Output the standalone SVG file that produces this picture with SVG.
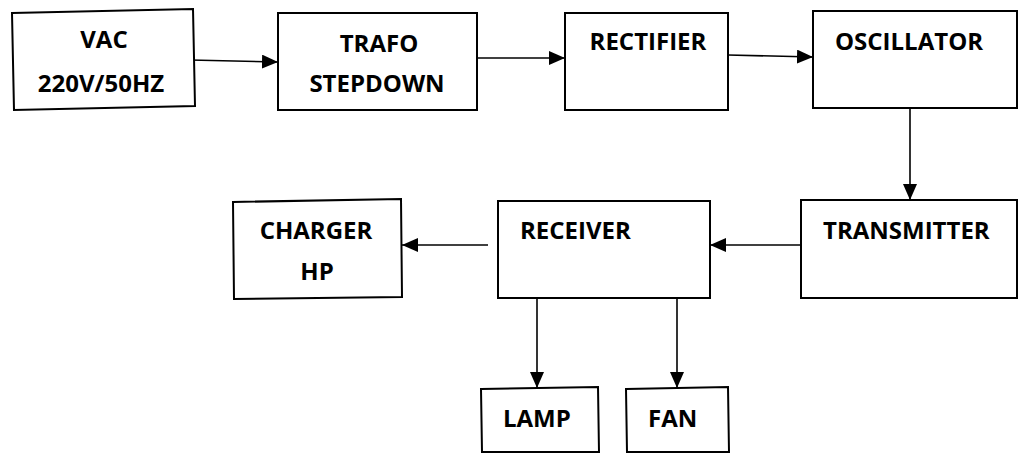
<svg xmlns="http://www.w3.org/2000/svg" width="1019" height="454" viewBox="0 0 1019 454">
<style>
.box{fill:#fff;stroke:#000;stroke-width:2}
.t{font-family:"Open Sans","Noto Sans",sans-serif;font-weight:bold;font-size:24px;fill:#000}
.c{text-anchor:middle}
.ln{stroke:#000;stroke-width:1.6;fill:none;marker-end:url(#ah)}
</style>
<defs>
<marker id="ah" markerUnits="userSpaceOnUse" markerWidth="16" markerHeight="14" viewBox="0 0 16 14" refX="16" refY="7" orient="auto">
<path d="M0,0 L16,7 L0,14 Z" fill="#000"/>
</marker>
</defs>
<rect width="1019" height="454" fill="#fff"/>
<g id="connectors">
<line class="ln" x1="190" y1="60" x2="278" y2="62"/>
<line class="ln" x1="477" y1="58" x2="565" y2="58"/>
<line class="ln" x1="728" y1="55" x2="813" y2="57"/>
<line class="ln" x1="910" y1="108" x2="910" y2="200"/>
<line class="ln" x1="801" y1="245" x2="710" y2="245"/>
<line class="ln" x1="488" y1="245" x2="402" y2="245"/>
<line class="ln" x1="537" y1="298" x2="537" y2="388"/>
<line class="ln" x1="677" y1="298" x2="677" y2="388"/>
</g>
<g id="vac">
<polygon class="box" points="12,13 193,9 195,106 14,110"/>
<text class="t c" x="104" y="48">VAC</text>
<text class="t c" x="101" y="92">220V/50HZ</text>
</g>
<g id="trafo">
<rect class="box" x="278" y="13" width="199" height="97"/>
<text class="t c" x="379" y="52">TRAFO</text>
<text class="t c" x="377" y="92">STEPDOWN</text>
</g>
<g id="rectifier">
<rect class="box" x="565" y="13" width="163" height="97"/>
<text class="t c" x="648" y="50">RECTIFIER</text>
</g>
<g id="oscillator">
<rect class="box" x="813" y="11" width="204" height="97"/>
<text class="t" x="835" y="50">OSCILLATOR</text>
</g>
<g id="transmitter">
<rect class="box" x="801" y="200" width="216" height="98"/>
<text class="t" x="823" y="239">TRANSMITTER</text>
</g>
<g id="receiver">
<rect class="box" x="498" y="201" width="212" height="97"/>
<text class="t" x="520" y="239">RECEIVER</text>
</g>
<g id="charger">
<polygon class="box" points="233,202 401,199 402,297 234,299"/>
<text class="t c" x="316" y="239">CHARGER</text>
<text class="t c" x="317" y="280">HP</text>
</g>
<g id="lamp">
<polygon class="box" points="481,389 598,387 599,452 482,452"/>
<text class="t" x="503" y="427">LAMP</text>
</g>
<g id="fan">
<polygon class="box" points="626,389 728,387 729,452 627,452"/>
<text class="t" x="648" y="427">FAN</text>
</g>
</svg>
